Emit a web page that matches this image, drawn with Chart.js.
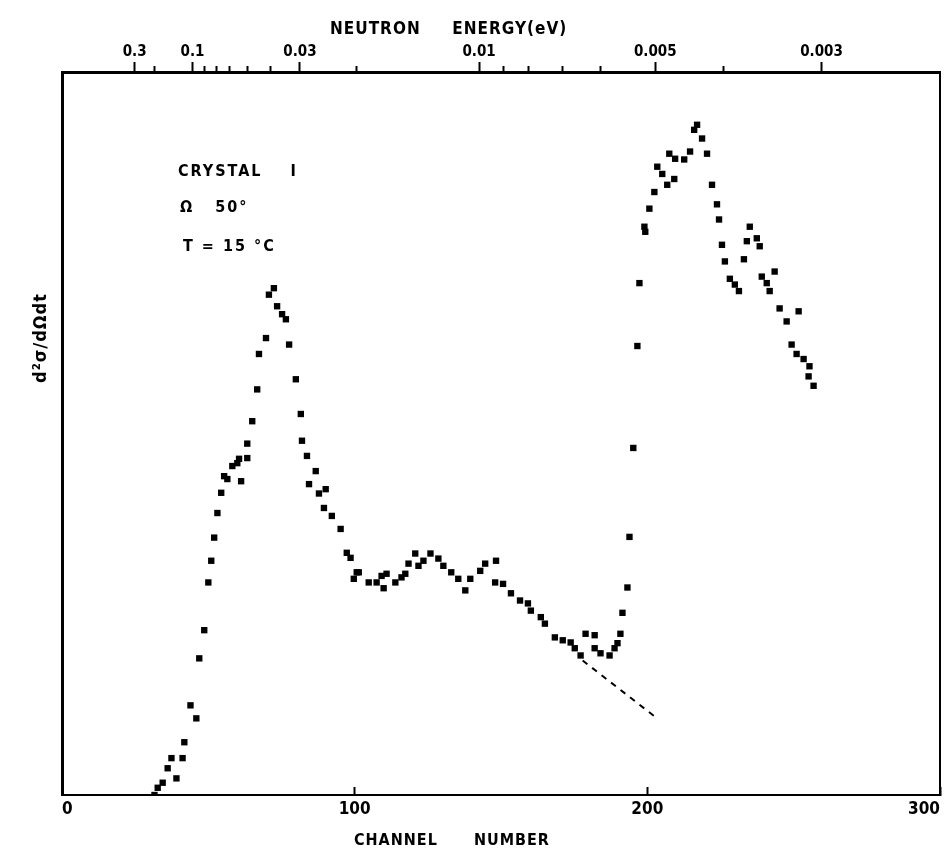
<!DOCTYPE html>
<html>
<head>
<meta charset="utf-8">
<script src="https://cdn.jsdelivr.net/npm/chart.js@4"></script>
<style>
  html, body { margin: 0; padding: 0; background: #fff; }
  #wrap { width: 949px; height: 851px; }
</style>
</head>
<body>
<div id="wrap"><canvas id="chart" width="949" height="851"></canvas></div>
<script>
// ── DATA ─────────────────────────────────────────────────────────────────────
const channel = [
  31.6, 32.7, 34.4, 36.1, 37.4, 39.1, 41.2, 41.8, 43.9, 45.9, 46.9, 48.6, 50.0, 51.0, 52.0,
  53.1, 54.4, 55.4, 56.5, 58.2, 59.9, 60.5, 61.2, 63.3, 63.3, 65.0, 66.7, 67.3, 69.7, 70.7,
  72.4, 73.5, 75.2, 76.5, 77.6, 79.9, 81.6, 82.0, 83.7, 84.4, 86.7, 87.8, 89.5, 90.1, 92.2,
  95.2, 97.3, 98.6, 99.7, 100.7, 101.4, 104.8, 107.5, 109.2, 109.9, 110.9, 113.9, 116.0, 117.3, 118.4,
  120.7, 121.8, 123.5, 125.9, 128.6, 130.3, 133.0, 135.4, 137.8, 139.5, 142.9, 144.6, 148.0, 148.3, 150.7,
  153.4, 156.5, 159.2, 160.2, 163.6, 165.0, 168.4, 171.1, 173.8, 175.2, 177.2, 178.9, 182.0, 182.0, 184.0,
  187.1, 188.8, 189.8, 190.8, 191.5, 193.2, 193.9, 195.2, 196.6, 197.3, 199.0, 199.3, 200.7, 202.4, 203.4,
  205.1, 206.8, 207.5, 209.2, 209.5, 212.6, 214.6, 216.0, 217.0, 218.7, 220.4, 222.1, 223.8, 224.5, 225.5,
  226.5, 228.2, 229.9, 231.3, 233.0, 234.0, 235.0, 237.4, 238.4, 239.1, 240.8, 241.8, 243.5, 245.2, 247.6,
  249.3, 251.0, 251.7, 253.4, 255.1, 255.4, 256.8,
];
const crossSection = [
  0.0, 1.0, 1.7, 3.7, 5.1, 2.3, 5.1, 7.3, 12.4, 10.6, 18.9, 22.8, 29.4, 32.4, 35.6,
  39.0, 41.8, 44.1, 43.7, 45.5, 45.9, 46.5, 43.4, 46.6, 48.6, 51.7, 56.1, 61.0, 63.2, 69.2,
  70.1, 67.6, 66.5, 65.8, 62.3, 57.5, 52.7, 49.0, 46.9, 43.0, 44.8, 41.7, 39.7, 42.3, 38.6,
  36.8, 33.5, 32.8, 29.9, 30.8, 30.8, 29.4, 29.4, 30.3, 28.6, 30.6, 29.4, 30.1, 30.6, 32.0,
  33.4, 31.7, 32.4, 33.4, 32.7, 31.7, 30.8, 29.9, 28.3, 29.9, 31.0, 32.0, 29.4, 32.4, 29.2,
  27.9, 26.9, 26.5, 25.5, 24.6, 23.7, 21.8, 21.4, 21.1, 20.3, 19.3, 22.3, 22.1, 20.3, 19.6,
  19.3, 20.3, 21.0, 22.3, 25.2, 28.7, 35.7, 48.0, 62.1, 70.8, 78.6, 77.9, 81.1, 83.4, 86.9,
  85.9, 84.4, 88.7, 85.2, 88.0, 87.9, 89.0, 92.0, 92.7, 90.8, 88.7, 84.4, 81.7, 79.6, 76.1,
  73.8, 71.4, 70.6, 69.7, 74.1, 76.6, 78.6, 77.0, 75.9, 71.7, 70.8, 69.7, 72.4, 67.3, 65.5,
  62.3, 61.0, 66.9, 60.3, 57.9, 59.3, 56.6,
];

// dashed background extrapolation
const bgChannel = [177.9, 202.7];
const bgValue   = [18.6, 10.8];

// bottom axis
const channelTicks = [0, 100, 200, 300];

// top axis: neutron energy (eV) at channel positions
const energyLabels   = ['0.3', '0.1', '0.03', '0.01', '0.005', '0.003'];
const energyChannels = [24.8, 44.6, 81.3, 142.5, 202.7, 259.5];
const energyMinor    = [31.6, 48.6, 52.7, 57.1, 63.3, 71.1, 100.6, 150.7, 159.5, 171.0, 184.0, 226.0];

const FONT = '"DejaVu Sans Condensed", "Liberation Sans Narrow", "DejaVu Sans", sans-serif';
const INK = '#000';

function noSidePad(s) { s.paddingLeft = 0; s.paddingRight = 0; }

// ── TEXT OVERLAY ─────────────────────────────────────────────────────────────
const labelsPlugin = {
  id: 'labels',
  afterDraw(chart) {
    const ctx = chart.ctx;
    ctx.save();
    ctx.fillStyle = INK;
    ctx.textBaseline = 'alphabetic';
    ctx.textAlign = 'left';
    ctx.letterSpacing = '1px';
    ctx.font = `bold 17px ${FONT}`;
    ctx.fillText('NEUTRON     ENERGY(eV)', 330, 34);
    ctx.font = `bold 16px ${FONT}`;
    ctx.fillText('CHANNEL      NUMBER', 354, 845);

    ctx.letterSpacing = '2px';
    ctx.font = `bold 16px ${FONT}`;
    ctx.fillText('CRYSTAL    I', 178, 176);
    ctx.fillText('Ω   50°', 180, 212);
    ctx.fillText('T = 15 °C', 183, 251);

    ctx.letterSpacing = '1px';
    ctx.translate(46, 338);
    ctx.rotate(-Math.PI / 2);
    ctx.textAlign = 'center';
    ctx.font = `bold 18px ${FONT}`;
    ctx.fillText('d²σ/dΩdt', 0, 0);
    ctx.restore();
  },
};

// ── CHART ────────────────────────────────────────────────────────────────────
new Chart(document.getElementById('chart'), {
  type: 'scatter',
  data: {
    datasets: [
      {
        data: channel.map((c, i) => ({ x: c, y: crossSection[i] })),
        pointStyle: 'rect',
        pointRadius: 4.5,
        backgroundColor: INK,
        borderColor: INK,
        borderWidth: 0,
      },
      {
        type: 'line',
        data: bgChannel.map((c, i) => ({ x: c, y: bgValue[i] })),
        borderColor: INK,
        borderWidth: 2,
        borderDash: [6, 6],
        pointRadius: 0,
        fill: false,
      },
    ],
  },
  options: {
    responsive: false,
    animation: false,
    layout: { padding: 0 },
    plugins: { legend: { display: false }, tooltip: { enabled: false } },
    scales: {
      x: {
        type: 'linear', position: 'bottom', min: 0, max: 300,
        afterBuildTicks: s => { s.ticks = channelTicks.map(v => ({ value: v })); },
        afterFit: s => { s.height = 56; noSidePad(s); },
        grid: { drawOnChartArea: false, tickLength: -8, tickColor: INK, tickWidth: 2 },
        border: { color: INK, width: 2 },
        ticks: { color: INK, padding: 12, maxRotation: 0, align: 'inner', font: { family: FONT, size: 17, weight: 'bold' } },
      },
      xTop: {
        type: 'linear', position: 'top', min: 0, max: 300, weight: 1,
        afterBuildTicks: s => { s.ticks = energyChannels.map(v => ({ value: v })); },
        afterFit: s => { s.height = 72; noSidePad(s); },
        grid: { drawOnChartArea: false, tickLength: 10, tickColor: INK, tickWidth: 2 },
        border: { color: INK, width: 3 },
        ticks: {
          color: INK, padding: 1, maxRotation: 0, autoSkip: false,
          font: { family: FONT, size: 15, weight: 'bold' },
          callback: (v, i) => energyLabels[i],
        },
      },
      xMinor: {
        type: 'linear', position: 'top', min: 0, max: 300, weight: 0,
        afterBuildTicks: s => { s.ticks = energyMinor.map(v => ({ value: v })); },
        afterFit: s => { s.height = 0; noSidePad(s); },
        grid: { drawOnChartArea: false, tickLength: 6, tickColor: INK, tickWidth: 2 },
        border: { display: false },
        ticks: { display: false },
      },
      y: {
        type: 'linear', position: 'left', min: 0, max: 100,
        afterFit: s => { s.width = 62; },
        grid: { display: false },
        border: { color: INK, width: 3 },
        ticks: { display: false },
      },
      yRight: {
        type: 'linear', position: 'right', min: 0, max: 100,
        afterFit: s => { s.width = 9; },
        grid: { display: false },
        border: { color: INK, width: 2 },
        ticks: { display: false },
      },
    },
  },
  plugins: [labelsPlugin],
});
</script>
</body>
</html>
